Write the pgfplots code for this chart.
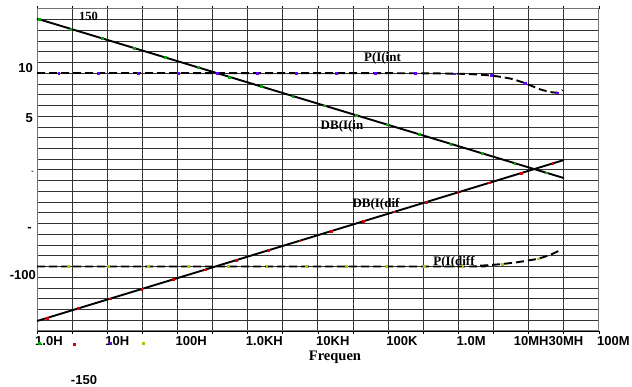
\documentclass[border=0pt]{standalone}
\usepackage{fontspec}
\setmainfont{Liberation Serif}
\newfontfamily\arial{Liberation Sans}
\usepackage{pgfplots}
\pgfplotsset{compat=1.18}
\definecolor{mkgreen}{RGB}{0,170,0}
\definecolor{mkred}{RGB}{210,0,0}
\definecolor{mkblue}{RGB}{100,0,255}
\definecolor{mkyel}{RGB}{190,190,0}
\newcommand{\sfl}{\arial\bfseries\fontsize{13bp}{15bp}\selectfont}
\begin{document}
\begin{tikzpicture}
\useasboundingbox (-37bp,-56bp) rectangle (595bp,331bp);
\begin{axis}[
  at={(0,0)}, anchor=south west,
  scale only axis, width=562bp, height=322bp,
  xmin=0, xmax=8, ymin=0, ymax=30,
  clip=false,
  xtick={0,...,8},
  minor xtick={0.5,1.5,...,7.5},
  xticklabels={1.0H,10H,100H,1.0KH,10KH,100K,1.0M,{\hspace*{-13bp}10MH30MH},100M},
  xticklabel style={anchor=north west, inner sep=0pt, xshift=-2bp, yshift=-2bp, font=\sfl},
  ytick={0,...,30}, yticklabels={},
  major y tick style={draw=none},
  tick align=outside,
  major x tick style={black, line width=0.8bp},
  minor x tick style={black, line width=0.8bp},
  major tick length=3bp, minor tick length=3bp,
  xmajorgrids, xminorgrids, ymajorgrids,
  major grid style={black!80, line width=1bp},
  minor grid style={black!80, line width=1bp},
  axis line style={black!55, line width=1bp},
]
% DB(I(in))
\addplot[black, line width=1.9bp] coordinates {(0,29.10) (7.5,14.25)};
% DB(I(dif))
\addplot[black, line width=1.9bp] coordinates {(0,0.93) (7.5,15.93)};
% P(I(int))
\addplot[black, line width=1.9bp, dash pattern=on 8bp off 4bp, smooth, tension=0.4] coordinates {
 (0,24.04) (5.0,24.02) (5.9,23.98) (6.2,23.92) (6.48,23.79) (6.75,23.50) (6.95,23.08) (7.16,22.52) (7.33,22.24) (7.42,22.22) (7.48,22.45)};
% P(I(dif))
\addplot[black, line width=1.9bp, dash pattern=on 8bp off 4bp, smooth, tension=0.4] coordinates {
 (0,6.01) (6.0,6.01) (6.3,6.08) (6.59,6.22) (6.85,6.42) (7.12,6.72) (7.3,7.08) (7.47,7.60)};
% markers
\addplot[only marks, mark=square*, mark size=0.9bp, color=mkgreen] coordinates {
 (0.03,29.04) (0.48,28.15) (0.93,27.26) (1.38,26.37) (1.83,25.48) (2.29,24.57) (2.74,23.67) (3.19,22.78) (3.64,21.89) (4.09,21.00) (4.54,20.11) (4.99,19.22) (5.44,18.33) (5.89,17.44) (6.34,16.55) (6.80,15.64) (7.25,14.75) (0.03,-1.12)};
\addplot[only marks, mark=square*, mark size=0.9bp, color=mkred] coordinates {
 (0.14,1.21) (0.59,2.11) (1.04,3.01) (1.49,3.91) (1.94,4.81) (2.39,5.71) (2.84,6.61) (3.29,7.51) (3.74,8.41) (4.19,9.31) (4.64,10.21) (5.09,11.11) (5.54,12.01) (5.99,12.91) (6.44,13.81) (6.89,14.71) (7.34,15.61) (0.53,-1.2)};
\addplot[only marks, mark=square*, mark size=0.9bp, color=mkblue] coordinates {
 (0.31,24.04) (0.87,24.04) (1.44,24.04) (2.01,24.04) (2.56,24.04) (3.13,24.04) (3.69,24.04) (4.26,24.04) (4.81,24.04) (5.38,24.03) (5.94,23.97) (6.46,23.80) (6.95,23.08) (7.40,22.20) (1.04,-1.12)};
\addplot[only marks, mark=square*, mark size=0.9bp, color=mkyel] coordinates {
 (0.44,6.01) (1.01,6.01) (1.58,6.01) (2.15,6.01) (2.72,6.01) (3.27,6.01) (3.83,6.01) (4.40,6.01) (4.97,6.01) (5.51,6.01) (6.06,6.02) (6.62,6.24) (7.13,6.74) (1.51,-1.12)};
\end{axis}
\draw[black, line width=1bp] (0,0) -- (562bp,0);
% curve labels
\node[font=\bfseries\fontsize{12.5bp}{14bp}\selectfont, inner sep=0] at (51.5bp,314.3bp) {150};
\node[font=\bfseries\fontsize{13bp}{15bp}\selectfont, inner sep=0] at (345.5bp,273bp) {P(I(int};
\node[font=\bfseries\fontsize{13bp}{15bp}\selectfont, inner sep=0] at (305bp,205bp) {DB(I(in};
\node[font=\bfseries\fontsize{13bp}{15bp}\selectfont, inner sep=0] at (339bp,127bp) {DB(I(dif};
\node[font=\bfseries\fontsize{13bp}{15bp}\selectfont, inner sep=0] at (417bp,69bp) {P(I(diff};
\node[font=\bfseries\fontsize{14.5bp}{16bp}\selectfont, inner sep=0] at (298bp,-26bp) {Frequen};
% y labels
\node[font=\sfl, inner sep=0, anchor=east] at (-4bp,263bp) {10};
\node[font=\sfl, inner sep=0, anchor=east] at (-4bp,213bp) {5};
\node[font=\arial\bfseries\fontsize{7bp}{8bp}\selectfont, inner sep=0, anchor=east] at (-3bp,159bp) {-};
\node[font=\sfl, inner sep=0, anchor=east] at (-5bp,102bp) {-};
\node[font=\sfl, inner sep=0, anchor=east] at (-1bp,56bp) {-100};
\node[font=\sfl, inner sep=0] at (47bp,-49bp) {-150};
\end{tikzpicture}
\end{document}
